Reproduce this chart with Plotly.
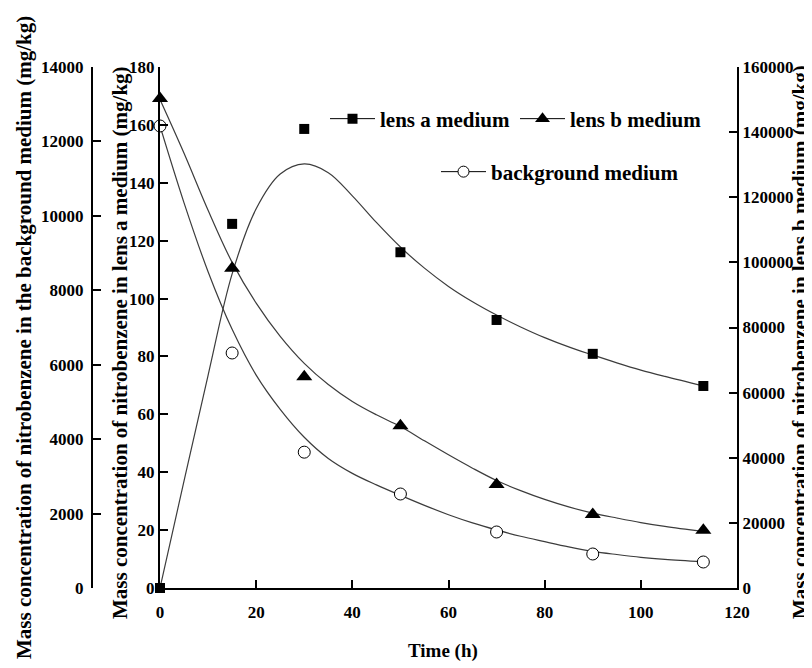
import plotly.graph_objects as go

# ---- measured data points ----
time_h = [0, 15, 30, 50, 70, 90, 113]
lens_a = [0, 125.8, 158.6, 116.0, 92.6, 80.9, 69.8]            # mg/kg, left inner axis
lens_b = [150300, 98200, 64900, 49800, 31800, 22600, 17700]     # mg/kg, right axis
background = [12415, 6315, 3650, 2526, 1505, 914, 699]          # mg/kg, left outer axis

# ---- fitted curves ----
fit_t = [0, 5, 10, 15, 20, 25, 30, 35, 40, 45, 50, 55, 60, 65, 70, 75, 80, 85, 90, 95, 100, 105, 113]
fit_a = [0, 37, 73.5, 108.5, 131, 143, 146.5, 143.5, 135.5, 126.3, 117.8, 110.5, 104.2, 98.9, 94.3,
         90.2, 86.5, 83.3, 80.5, 77.8, 75.3, 73.1, 69.8]
fit_b = [150000, 133500, 116000, 100000, 87500, 77300, 69000, 62500, 57300, 53200, 49600, 45200,
         40900, 36800, 33000, 29900, 27200, 24900, 23000, 21500, 20100, 18900, 17300]
fit_bg = [12415, 10350, 8500, 6950, 5720, 4800, 4050, 3480, 3080, 2770, 2490, 2220, 1970, 1750,
          1560, 1390, 1245, 1105, 985, 900, 825, 770, 705]

x_ticks = [0, 20, 40, 60, 80, 100, 120]

FONT = "Liberation Serif"
LINE = "#3c3c3c"
OFF = 8                      # page body margin
W, H = 812 - OFF, 668 - OFF
ML, MR, MT, MB = 2, 2, 67 - OFF, 80
PW = W - ML - MR
PH = H - MT - MB


def px_x(p):                 # page pixel -> paper fraction
    return (p - OFF - ML) / PW


def px_y(p):
    return (H + OFF - MB - p) / PH


fig = go.Figure()

curve_line = dict(color=LINE, width=1.2, shape="spline", smoothing=1.0)
fig.add_trace(go.Scatter(x=fit_t, y=fit_a, mode="lines", yaxis="y", line=curve_line,
                         showlegend=False, hoverinfo="skip"))
fig.add_trace(go.Scatter(x=fit_t, y=fit_b, mode="lines", yaxis="y2", line=curve_line,
                         showlegend=False, hoverinfo="skip"))
fig.add_trace(go.Scatter(x=fit_t, y=fit_bg, mode="lines", yaxis="y3", line=curve_line,
                         showlegend=False, hoverinfo="skip"))

# markers
fig.add_trace(go.Scatter(x=time_h, y=lens_a, mode="markers", yaxis="y", cliponaxis=False,
                         marker=dict(symbol="square", size=10, color="black"), showlegend=False))
fig.add_trace(go.Scatter(x=time_h, y=lens_b, mode="markers", yaxis="y2", cliponaxis=False,
                         marker=dict(symbol="triangle-up", size=14, color="black"), showlegend=False))
fig.add_trace(go.Scatter(x=time_h, y=background, mode="markers", yaxis="y3", cliponaxis=False,
                         marker=dict(symbol="circle", size=12, color="white",
                                     line=dict(color="black", width=1)), showlegend=False))

# legend entries
fig.add_trace(go.Scatter(x=[None], y=[None], mode="lines+markers", name="lens a medium",
                         line=dict(color="black", width=1),
                         marker=dict(symbol="square", size=10, color="black"), legend="legend"))
fig.add_trace(go.Scatter(x=[None], y=[None], mode="lines+markers", name="lens b medium",
                         line=dict(color="black", width=1),
                         marker=dict(symbol="triangle-up", size=13, color="black"), legend="legend"))
fig.add_trace(go.Scatter(x=[None], y=[None], mode="lines+markers", name="background medium",
                         line=dict(color="black", width=1),
                         marker=dict(symbol="circle", size=11, color="white",
                                     line=dict(color="black", width=1)), legend="legend2"))

tickfont = dict(family=FONT, size=17, color="black", weight="bold")
axis_common = dict(showgrid=False, zeroline=False, showline=True, linecolor="black", linewidth=2,
                   ticks="inside", ticklen=8, tickwidth=1.5, tickcolor="black", tickfont=tickfont,
                   automargin=False)

x0 = px_x(160)
x1 = px_x(737)
title_font = dict(family=FONT, size=21, color="black", weight="bold")
legend_font = dict(family=FONT, size=21, color="black", weight="bold")

fig.update_layout(
    width=W, height=H,
    margin=dict(l=ML, r=MR, t=MT, b=MB, autoexpand=False),
    paper_bgcolor="white", plot_bgcolor="white",
    font=dict(family=FONT, color="black"),
    xaxis=dict(domain=[x0, x1], range=[0, 120], tickvals=x_ticks, ticklabelstandoff=8,
               **axis_common),
    yaxis=dict(range=[0, 180], dtick=20, anchor="x", side="left", **axis_common),
    yaxis2=dict(range=[0, 160000], dtick=20000, tickformat="d", anchor="x", side="right",
                overlaying="y", **axis_common),
    yaxis3=dict(range=[0, 14000], dtick=2000, tickformat="d", anchor="free", side="left",
                position=px_x(92), overlaying="y", ticklabelstandoff=4, **axis_common),
    legend=dict(orientation="h", x=px_x(325), y=px_y(119), xanchor="left", yanchor="middle",
                font=legend_font, bgcolor="rgba(0,0,0,0)", itemwidth=45),
    legend2=dict(orientation="h", x=px_x(436), y=px_y(172), xanchor="left", yanchor="middle",
                 font=legend_font, bgcolor="rgba(0,0,0,0)", itemwidth=45),
    annotations=[
        dict(text="Mass concentration of nitrobenzene in the background medium (mg/kg)",
             x=px_x(24), y=px_y(338), xref="paper", yref="paper", textangle=-90,
             showarrow=False, xanchor="center", yanchor="middle", font=title_font),
        dict(text="Mass concentration of nitrobenzene in lens a medium (mg/kg)",
             x=px_x(120), y=px_y(343), xref="paper", yref="paper", textangle=-90,
             showarrow=False, xanchor="center", yanchor="middle", font=title_font),
        dict(text="Mass concentration of nitrobenzene in lens b medium (mg/kg)",
             x=px_x(800), y=px_y(342), xref="paper", yref="paper", textangle=-90,
             showarrow=False, xanchor="center", yanchor="middle", font=title_font),
        dict(text="Time (h)", x=px_x(443), y=px_y(651), xref="paper", yref="paper",
             showarrow=False, xanchor="center", yanchor="middle",
             font=dict(family=FONT, size=19, color="black", weight="bold")),
    ],
)

fig.write_html("out.html")
